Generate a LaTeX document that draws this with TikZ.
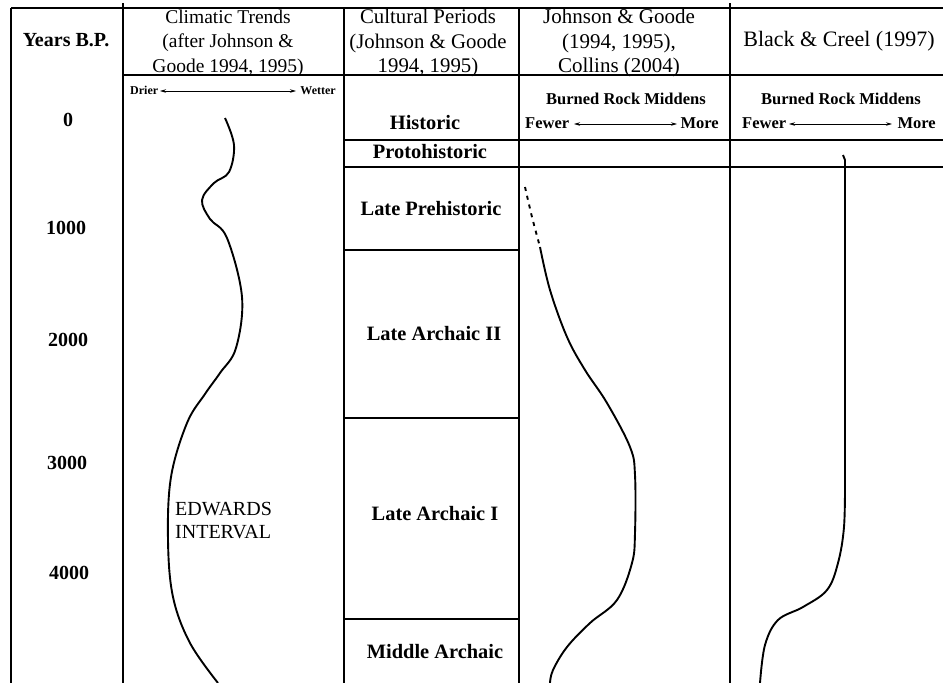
\documentclass[tikz,border=0pt]{standalone}
\usepackage{fontspec}
\setmainfont{Liberation Serif}
\usetikzlibrary{arrows.meta}
\begin{document}
\begin{tikzpicture}[x=1pt,y=-1pt,
  grid/.style={line width=2.1pt,black},
  thingrid/.style={line width=1.5pt,black},
  curve/.style={line width=1.9pt,black},
  hdr/.style={align=center,inner sep=0pt},
  yr/.style={font=\fontsize{20}{24}\selectfont\bfseries,inner sep=0pt},
  per/.style={font=\fontsize{20.4}{24}\selectfont\bfseries,inner sep=0pt},
  sub/.style={font=\fontsize{16.5}{19}\selectfont\bfseries,inner sep=0pt},
  small/.style={font=\fontsize{12}{14}\selectfont\bfseries,inner sep=0pt},
  dbl/.style={line width=0.8pt,{Stealth[length=6pt,width=3.5pt]}-{Stealth[length=6pt,width=3.5pt]}}]
\useasboundingbox[fill=white] (0,0) rectangle (943,683);
% grid
\draw[grid] (11,8) -- (943,8);
\draw[grid] (11,8) -- (11,683);
\draw[grid] (123,3) -- (123,683);
\draw[grid] (344,8) -- (344,683);
\draw[grid] (519,8) -- (519,683);
\draw[grid] (730,3) -- (730,683);
\draw[grid] (123,75) -- (943,75);
\draw[grid] (344,140) -- (943,140);
\draw[grid] (344,167) -- (943,167);
\draw[grid] (344,250) -- (519,250);
\draw[thingrid] (344,418) -- (519,418);
\draw[grid] (344,619) -- (519,619);
% headers
\node[hdr,font=\fontsize{20}{24}\selectfont\bfseries] (hyears) at (66,40) {Years B.P.};
\node[hdr,font=\fontsize{19.5}{24.5}\selectfont] (hclim) at (228,43) {Climatic Trends\\(after Johnson \&\\Goode 1994, 1995)};
\node[hdr,font=\fontsize{20.8}{24.5}\selectfont] (hcult) at (428,43) {Cultural Periods\\(Johnson \& Goode\\1994, 1995)};
\node[hdr,font=\fontsize{21}{24.5}\selectfont] (hjg) at (619,43) {Johnson \& Goode\\(1994, 1995),\\Collins (2004)};
\node[hdr,font=\fontsize{22}{24.5}\selectfont] (hbc) at (839,41) {Black \& Creel (1997)};
% years
\node[yr] (y0) at (68,120) {0};
\node[yr] (y1) at (66,228) {1000};
\node[yr] (y2) at (68,340) {2000};
\node[yr] (y3) at (67,463) {3000};
\node[yr] (y4) at (69,573) {4000};
% sub headers
\node[small,anchor=west] (drier) at (130,90) {Drier};
\node[small,anchor=east] (wetter) at (336,91) {Wetter};
\coordinate (da) at (160,91);
\coordinate (db) at (296,91);
\draw[dbl] (da) -- (db);
\node[sub] (brm1) at (626,99) {Burned Rock Middens};
\node[sub,anchor=west] (few1) at (525,123) {Fewer};
\node[sub,anchor=east] (more1) at (719,123) {More};
\coordinate (fa1) at (574,124);
\coordinate (fb1) at (677,124);
\draw[dbl] (fa1) -- (fb1);
\node[sub] (brm2) at (841,99) {Burned Rock Middens};
\node[sub,anchor=west] (few2) at (742,123) {Fewer};
\node[sub,anchor=east] (more2) at (936,123) {More};
\coordinate (fa2) at (789,124);
\coordinate (fb2) at (892,124);
\draw[dbl] (fa2) -- (fb2);
% periods
\node[per] (historic) at (425,123) {Historic};
\node[per] (proto) at (430,152) {Protohistoric};
\node[per] (lprehist) at (431,209) {Late Prehistoric};
\node[per] (la2) at (434,334) {Late Archaic II};
\node[per] (la1) at (435,514) {Late Archaic I};
\node[per] (mid) at (435,652) {Middle Archaic};
% edwards
\node[font=\fontsize{20}{23}\selectfont,align=left,anchor=west,inner sep=0pt] (edw) at (175,521) {EDWARDS\\INTERVAL};
% curves
\draw[curve] plot[smooth,tension=0.6] coordinates {(225,118) (234,145) (229,172) (214,183) (202,200) (210,219) (227,238) (242,297) (236,348) (220,373) (205,394) (187,423) (171,477) (168,540) (173,597) (190,643) (218,683)};
\draw[curve,dash pattern=on 4pt off 5pt] plot[smooth] coordinates {(525,187) (532,217) (540,247)};
\draw[curve] plot[smooth,tension=0.6] coordinates {(540,247) (550,290) (567,337) (585,370) (607,403) (630,447) (635,475) (635,533) (632,563) (617,600) (590,623) (567,647) (553,670) (550,683)};
\draw[curve] (843,155) -- (845,160) -- (845,480);
\draw[curve] plot[smooth,tension=0.6] coordinates {(845,480) (844,527) (838,563) (827,590) (803,607) (778,620) (765,645) (760,683)};
\end{tikzpicture}
\end{document}
